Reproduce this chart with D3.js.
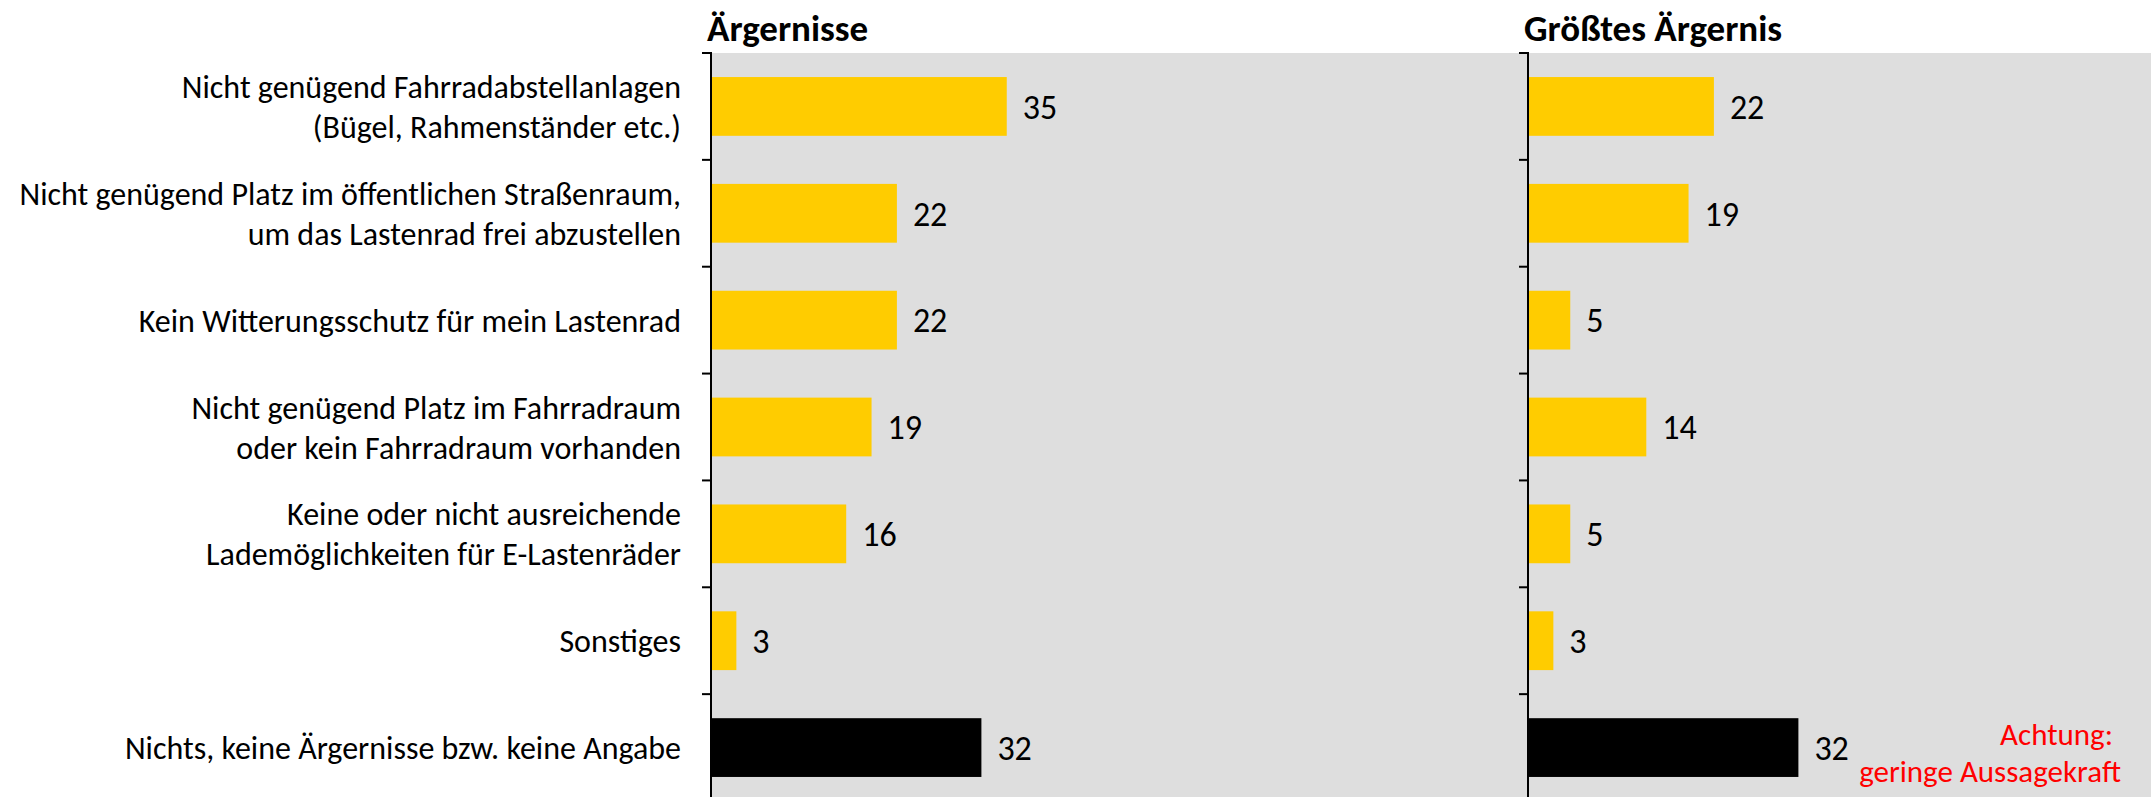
<!DOCTYPE html>
<html>
<head>
<meta charset="utf-8">
<script src="https://cdn.jsdelivr.net/npm/d3@7"></script>
<style>
  body { margin: 0; background: #fff; }
  text { font-family: Carlito, Lato, sans-serif; }
</style>
</head>
<body>
<div id="chart"></div>
<script>
// data
var categories = [
  ["Nicht genügend Fahrradabstellanlagen", "(Bügel, Rahmenständer etc.)"],
  ["Nicht genügend Platz im öffentlichen Straßenraum,", "um das Lastenrad frei abzustellen"],
  ["Kein Witterungsschutz für mein Lastenrad"],
  ["Nicht genügend Platz im Fahrradraum", "oder kein Fahrradraum vorhanden"],
  ["Keine oder nicht ausreichende", "Lademöglichkeiten für E-Lastenräder"],
  ["Sonstiges"],
  ["Nichts, keine Ärgernisse bzw. keine Angabe"]
];
var aergernisse = [35, 22, 22, 19, 16, 3, 32];
var groesstesAergernis = [22, 19, 5, 14, 5, 3, 32];
var panelTitles = ["Ärgernisse", "Größtes Ärgernis"];
var noteLines = ["Achtung:", "geringe Aussagekraft"];

var W = 2151, H = 797;
var svg = d3.select("#chart").append("svg")
  .attr("width", W)
  .attr("height", H);

var plotTop = 53, plotBottom = 801;
var panelX = [711, 1528];
var pxPerUnit = 8.45;

var ids = categories.map(function(d, i) { return i; });

var y = d3.scaleBand()
  .domain(ids)
  .range([plotTop, plotBottom])
  .paddingInner(0.45)
  .paddingOuter(0.225);

// gray plot background
svg.append("rect")
  .attr("x", panelX[0])
  .attr("y", plotTop)
  .attr("width", W - panelX[0])
  .attr("height", H - plotTop)
  .attr("fill", "#dedede");

// category labels
var labelG = svg.append("g");
categories.forEach(function(lines, i) {
  var cy = y(i) + y.bandwidth() / 2;
  var lh = 40;
  var t = labelG.append("text")
    .attr("text-anchor", "end")
    .attr("x", panelX[0] - 30)
    .style("font-size", "32px")
    .attr("fill", "#000");
  lines.forEach(function(l, j) {
    t.append("tspan")
      .attr("x", panelX[0] - 30)
      .attr("y", cy + (j - (lines.length - 1) / 2) * lh)
      .attr("dy", "0.36em")
      .text(l);
  });
});

function drawPanel(x0, values, title) {
  var x = d3.scaleLinear()
    .domain([0, 100])
    .range([x0, x0 + 100 * pxPerUnit]);

  var g = svg.append("g");

  g.selectAll("rect.bar").data(values).enter()
    .append("rect")
    .attr("class", "bar")
    .attr("x", x(0))
    .attr("y", function(d, i) { return y(i); })
    .attr("width", function(d) { return x(d) - x(0); })
    .attr("height", y.bandwidth())
    .attr("fill", function(d, i) { return i == values.length - 1 ? "#000" : "#ffcc00"; });

  g.selectAll("text.value").data(values).enter()
    .append("text")
    .attr("class", "value")
    .attr("x", function(d) { return x(d) + 16; })
    .attr("y", function(d, i) { return y(i) + y.bandwidth() / 2; })
    .attr("dy", "0.36em")
    .style("font-size", "34px")
    .text(function(d) { return d; });

  // axis line + ticks between categories
  var step = y.step();
  var bounds = ids.map(function(i) { return y(i) - step * y.paddingInner() / 2; });
  bounds.push(plotBottom);
  g.append("line")
    .attr("x1", x(0)).attr("x2", x(0))
    .attr("y1", plotTop - 1).attr("y2", H)
    .style("stroke", "#000")
    .style("stroke-width", 2);
  g.selectAll("line.tick").data(bounds).enter()
    .append("line")
    .attr("class", "tick")
    .attr("x1", x(0) - 9).attr("x2", x(0))
    .attr("y1", function(d) { return d; })
    .attr("y2", function(d) { return d; })
    .style("stroke", "#000")
    .style("stroke-width", 2);

  svg.append("text")
    .attr("x", x(0) - 4)
    .attr("y", 41)
    .style("font-size", "37px")
    .style("font-weight", "bold")
    .text(title);
}

drawPanel(panelX[0], aergernisse, panelTitles[0]);
drawPanel(panelX[1], groesstesAergernis, panelTitles[1]);

// red note
svg.append("text")
  .attr("x", 2113).attr("y", 745)
  .attr("text-anchor", "end")
  .style("font-size", "31px")
  .attr("fill", "#ff0000")
  .text(noteLines[0]);
svg.append("text")
  .attr("x", 2121).attr("y", 782)
  .attr("text-anchor", "end")
  .style("font-size", "31px")
  .attr("fill", "#ff0000")
  .text(noteLines[1]);
</script>
</body>
</html>
